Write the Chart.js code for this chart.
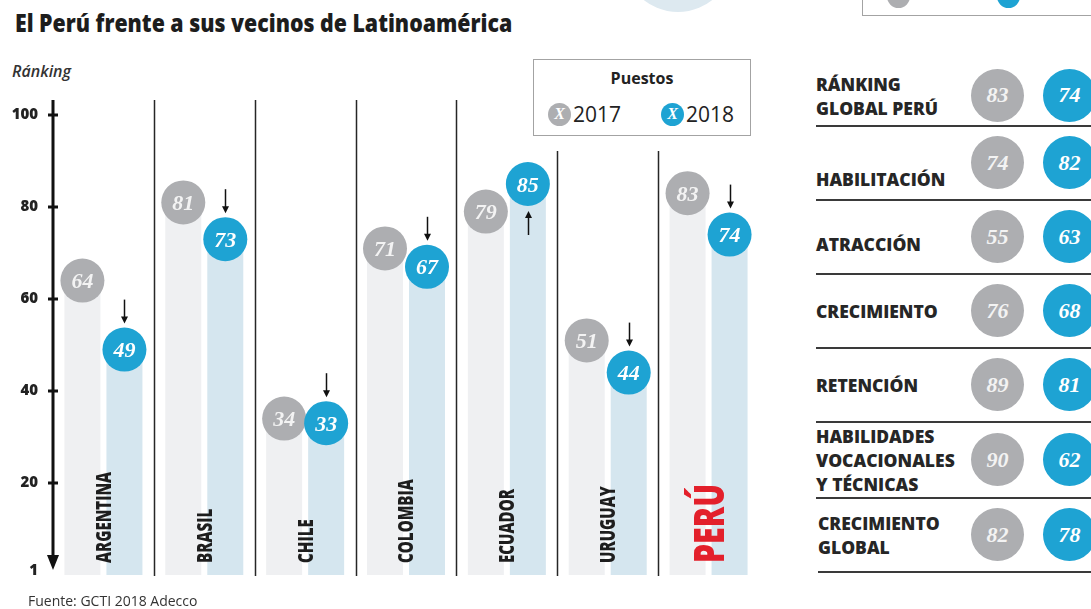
<!DOCTYPE html>
<html lang="es">
<head>
<meta charset="utf-8">
<title>El Perú frente a sus vecinos de Latinoamérica</title>
<script src="https://cdn.jsdelivr.net/npm/chart.js@4.4.1/dist/chart.umd.min.js"></script>
<style>
  html, body { margin: 0; padding: 0; background: #fff; }
  body {
    width: 1091px; height: 609px; position: relative; overflow: hidden;
    font-family: "Open Sans", Roboto, sans-serif; color: #222;
  }
  #chart { position: absolute; left: 0; top: 0; }
  .title {
    position: absolute; left: 15px; top: 5px; display: inline-block;
    font-weight: 800; font-size: 25px; line-height: 34px; white-space: nowrap;
    transform-origin: 0 0; color: #1d1d1d;
  }
  .subtitle {
    position: absolute; left: 12px; top: 61px;
    font-style: italic; font-weight: 600; font-size: 16px; line-height: 20px; color: #333;
  }
  .source {
    position: absolute; left: 28px; top: 592px;
    font-size: 14px; line-height: 18px; color: #333;
  }
  #legend {
    position: absolute; left: 533px; top: 59px; width: 216px; height: 75px;
    border: 1.5px solid #a3a3a3; background: #fff; z-index: 2;
  }
  #legend .lg-title {
    position: absolute; left: 0; right: 0; top: 7px; text-align: center;
    font-weight: 700; font-size: 16px; line-height: 22px; color: #222;
  }
  #legend .lg-item {
    position: absolute; top: 40px; height: 28px; display: flex; align-items: center;
    font-size: 21px; color: #222;
  }
  .dot {
    display: inline-flex; align-items: center; justify-content: center;
    border-radius: 50%; color: #fff;
    font-family: "Liberation Serif", serif; font-style: italic; font-weight: 700;
  }
  #legend .dot { width: 23px; height: 23px; font-size: 16px; margin-right: 2px; }
  #panel { position: absolute; left: 816px; top: 66px; width: 275px; }
  .row { position: relative; height: 74px; border-bottom: 2px solid #3a3a3a; box-sizing: border-box; }
  .row:first-child { height: 61px; }
  .row:nth-child(6) { height: 76px; }
  .row:last-child { margin-left: 2px; }
  .row .lbl {
    position: absolute; left: 0; top: 0; bottom: 0; display: flex; align-items: center;
    font-weight: 800; font-size: 17.5px;
    line-height: 24px; color: #262626; white-space: pre;
  }
  .row:nth-child(2) .lbl { padding-top: 32px; }
  .row:nth-child(3) .lbl { padding-top: 14px; }
  .row .dot {
    position: absolute; top: 50%; width: 53px; height: 53px; margin-top: -27px; font-size: 22px;
  }
  .frag-circle {
    position: absolute; left: 623px; top: -98px; width: 110px; height: 110px;
    border-radius: 50%; background: #dde9f0;
  }
  .frag-box {
    position: absolute; left: 862px; top: -30px; width: 240px; height: 44px;
    border: 1.5px solid #a3a3a3; overflow: hidden;
  }
  .frag-box span { position: absolute; top: 14px; width: 23px; height: 23px; border-radius: 50%; }
</style>
</head>
<body>
<div class="frag-circle"></div>
<div class="frag-box"><span style="left:24px;background:#adaeb1"></span><span style="left:134px;background:#1ea3d3"></span></div>
<div class="title" id="title">El Perú frente a sus vecinos de Latinoamérica</div>
<div class="subtitle">Ránking</div>
<canvas id="chart" width="780" height="609"></canvas>
<div id="legend"><div class="lg-title">Puestos</div></div>
<div id="panel"></div>
<div class="source">Fuente: GCTI 2018 Adecco</div>

<script>
// Datos
const years = ['2017', '2018'];
const countries = ['ARGENTINA', 'BRASIL', 'CHILE', 'COLOMBIA', 'ECUADOR', 'URUGUAY', 'PERÚ'];
const rank2017 = [64, 81, 34, 71, 79, 51, 83];
const rank2018 = [49, 73, 33, 67, 85, 44, 74];
const yTicks = [1, 20, 40, 60, 80, 100];

const pillars = ['RÁNKING\nGLOBAL PERÚ', 'HABILITACIÓN', 'ATRACCIÓN', 'CRECIMIENTO',
    'RETENCIÓN', 'HABILIDADES\nVOCACIONALES\nY TÉCNICAS', 'CRECIMIENTO\nGLOBAL'];
const peru2017 = [83, 74, 55, 76, 89, 90, 82];
const peru2018 = [74, 82, 63, 68, 81, 62, 78];

// Estilos
const barColors = ['#eff0f2', '#d5e6ef'];
const dotColors = ['#adaeb1', '#1ea3d3'];
const dotText = ['#f3f3f3', '#ffffff'];
const highlight = 'PERÚ';
const heavy = '"Open Sans", Roboto, sans-serif';

// Title condensed to the width of the original lettering
const title = document.getElementById('title');
title.style.transform = 'scaleX(' + (497 / title.offsetWidth) + ')';

// Legend
const legend = document.getElementById('legend');
years.forEach((yr, i) => {
    const item = document.createElement('div');
    item.className = 'lg-item';
    item.style.left = (14 + i * 113) + 'px';
    item.innerHTML = '<span class="dot" style="background:' + dotColors[i] + '">X</span>' + yr;
    legend.appendChild(item);
});

// Right panel
const panel = document.getElementById('panel');
pillars.forEach((name, i) => {
    const row = document.createElement('div');
    row.className = 'row';
    const lbl = document.createElement('div');
    lbl.className = 'lbl';
    lbl.textContent = name;
    row.appendChild(lbl);
    [peru2017[i], peru2018[i]].forEach((v, d) => {
        const dot = document.createElement('span');
        dot.className = 'dot';
        dot.style.left = (155 + d * 72 - (i === pillars.length - 1 ? 2 : 0)) + 'px';
        dot.style.background = dotColors[d];
        dot.style.color = dotText[d];
        dot.textContent = v;
        row.appendChild(dot);
    });
    panel.appendChild(row);
});

const infographic = {
    id: 'infographic',
    beforeDatasetsDraw(chart) {
        const { ctx, chartArea, scales: { x } } = chart;
        const lg = legend.getBoundingClientRect();
        ctx.save();
        ctx.strokeStyle = '#262626';
        ctx.lineWidth = 1.5;
        for (let i = 0; i < countries.length - 1; i++) {
            const xb = Math.round((x.getPixelForValue(i) + x.getPixelForValue(i + 1)) / 2) + 0.5;
            const top = (xb > lg.left && xb < lg.right) ? lg.bottom + 15 : chartArea.top - 15;
            ctx.beginPath();
            ctx.moveTo(xb, top);
            ctx.lineTo(xb, chartArea.bottom + 1);
            ctx.stroke();
        }
        ctx.restore();
    },
    afterDatasetsDraw(chart) {
        const { ctx, chartArea, scales: { y } } = chart;
        ctx.save();

        // Axis with downward arrow
        const ax = chartArea.left;
        ctx.strokeStyle = '#111';
        ctx.fillStyle = '#111';
        ctx.lineWidth = 3;
        ctx.beginPath();
        ctx.moveTo(ax, chartArea.top - 15);
        ctx.lineTo(ax, chartArea.bottom - 16);
        ctx.stroke();
        ctx.beginPath();
        ctx.moveTo(ax - 6, chartArea.bottom - 20);
        ctx.lineTo(ax + 6, chartArea.bottom - 20);
        ctx.lineTo(ax, chartArea.bottom - 5);
        ctx.closePath();
        ctx.fill();
        yTicks.slice(1).forEach(v => {
            const py = y.getPixelForValue(v);
            ctx.beginPath();
            ctx.moveTo(ax - 5, py);
            ctx.lineTo(ax + 5, py);
            ctx.stroke();
        });

        // Country names, rotated inside the bars
        countries.forEach((name, i) => {
            const cx = chart.scales.x.getPixelForValue(i);
            const big = name === highlight;
            const fs = big ? 42 : 21;
            ctx.save();
            ctx.font = '800 ' + fs + 'px ' + heavy;
            ctx.fillStyle = big ? '#e3202b' : '#1e1e1e';
            ctx.translate(cx, chartArea.bottom - 12);
            ctx.rotate(-Math.PI / 2);
            ctx.textAlign = 'left';
            ctx.textBaseline = 'alphabetic';
            const w = ctx.measureText(name).width * 0.72;
            ctx.fillText(name, 0, fs * 0.357, w);
            ctx.restore();
        });

        // Value circles and change arrows
        const r = 22;
        chart.data.datasets.forEach((ds, d) => {
            chart.getDatasetMeta(d).data.forEach((bar, i) => {
                ctx.beginPath();
                ctx.arc(bar.x, bar.y, r, 0, Math.PI * 2);
                ctx.fillStyle = dotColors[d];
                ctx.fill();
                ctx.font = 'italic bold 22px "Liberation Serif", serif';
                ctx.fillStyle = dotText[d];
                ctx.textAlign = 'center';
                ctx.textBaseline = 'alphabetic';
                ctx.fillText(String(ds.data[i]), bar.x, bar.y + 7.5);
            });
        });
        ctx.strokeStyle = '#111';
        ctx.fillStyle = '#111';
        ctx.lineWidth = 1.5;
        chart.getDatasetMeta(1).data.forEach((bar, i) => {
            const down = rank2018[i] < rank2017[i];
            const ax2 = Math.round(bar.x) + 0.5;
            const tip = down ? bar.y - r - 4 : bar.y + r + 5;
            const tail = down ? tip - 24 : tip + 24;
            const dir = down ? 1 : -1;
            ctx.beginPath();
            ctx.moveTo(ax2, tail);
            ctx.lineTo(ax2, tip - dir * 5);
            ctx.stroke();
            ctx.beginPath();
            ctx.moveTo(ax2 - 3.5, tip - dir * 7);
            ctx.lineTo(ax2 + 3.5, tip - dir * 7);
            ctx.lineTo(ax2, tip);
            ctx.closePath();
            ctx.fill();
        });
        ctx.restore();
    }
};

new Chart(document.getElementById('chart'), {
    type: 'bar',
    data: {
        labels: countries,
        datasets: [
            { label: years[0], data: rank2017, backgroundColor: barColors[0] },
            { label: years[1], data: rank2018, backgroundColor: barColors[1] }
        ]
    },
    options: {
        responsive: false,
        animation: false,
        devicePixelRatio: 1,
        layout: { padding: { left: 11, top: 115, right: 21, bottom: 34 } },
        datasets: {
            bar: { categoryPercentage: 0.833, barPercentage: 0.857, borderWidth: 0 }
        },
        plugins: { legend: { display: false }, tooltip: { enabled: false } },
        scales: {
            x: { display: false },
            y: {
                min: 0,
                max: 100,
                afterBuildTicks: scale => { scale.ticks = yTicks.map(v => ({ value: v })); },
                afterFit: scale => { scale.width = 42; },
                grid: { display: false, drawTicks: false },
                border: { display: false },
                ticks: {
                    padding: 15,
                    color: '#222',
                    font: { family: heavy, weight: '800', size: 15 }
                }
            }
        }
    },
    plugins: [infographic]
});
</script>
</body>
</html>
